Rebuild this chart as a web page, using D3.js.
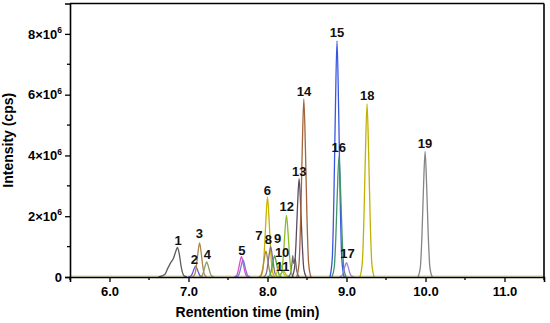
<!DOCTYPE html>
<html><head><meta charset="utf-8">
<script src="https://cdn.jsdelivr.net/npm/d3@7"></script>
<style>body{margin:0;background:#fff}svg{display:block}text{font-family:"Liberation Sans",Arial,sans-serif;font-weight:bold}</style>
</head><body><svg id="c" width="550" height="323"></svg>
<script>
// Retention-time points (min) and intensities (×10^6 cps), one array pair per peak
const peakIds = ["1","2","3","4","5","5b","6","7","8","9","10","11","x","12","13","14","15","16","17","18","19"];
const peakColors = ["#5c5c5c","#6a55d0","#a8884f","#8c9a68","#e04cc8","#7c78d8","#c8b400","#b08a3a","#7d6e8e","#4aa84a","#d6c22a","#a8b840","#6e6e6e","#8cbc2c","#5a4a66","#a2643a","#3a56e0","#3f9468","#9c86d6","#c2b200","#858585"];
const peakTimes = [
  [6.62,6.70,6.74,6.77,6.81,6.84,6.86,6.88,6.91,6.94,6.98],
  [7.00,7.03,7.05,7.07,7.09,7.11,7.13,7.15,7.18],
  [7.05,7.08,7.10,7.12,7.14,7.16,7.18,7.20,7.23],
  [7.14,7.17,7.19,7.21,7.23,7.25,7.27,7.29,7.32],
  [7.58,7.61,7.63,7.65,7.67,7.69,7.71,7.73,7.76],
  [7.60,7.63,7.65,7.67,7.69,7.71,7.73,7.75,7.78],
  [7.91,7.94,7.96,7.98,8.00,8.02,8.04,8.06,8.09],
  [7.89,7.92,7.94,7.96,7.98,8.00,8.02,8.04,8.07],
  [7.95,7.98,8.00,8.02,8.04,8.06,8.08,8.10,8.13],
  [8.00,8.03,8.05,8.07,8.09,8.11,8.13,8.15,8.18],
  [8.07,8.10,8.12,8.14,8.16,8.18,8.20,8.22,8.25],
  [8.11,8.14,8.16,8.18,8.20,8.22,8.24,8.26,8.29],
  [8.26,8.29,8.31,8.32,8.33,8.35,8.37,8.40],
  [8.15,8.18,8.20,8.22,8.24,8.26,8.28,8.30,8.33],
  [8.31,8.34,8.36,8.38,8.40,8.42,8.44,8.46,8.49],
  [8.37,8.40,8.42,8.44,8.46,8.48,8.50,8.52,8.55],
  [8.79,8.82,8.84,8.86,8.88,8.90,8.92,8.94,8.97],
  [8.815,8.845,8.865,8.885,8.905,8.925,8.945,8.965,8.995],
  [8.91,8.94,8.96,8.98,9.00,9.02,9.04,9.06,9.09],
  [9.17,9.20,9.22,9.24,9.26,9.28,9.30,9.32,9.35],
  [9.905,9.935,9.955,9.975,9.995,10.015,10.035,10.055,10.085]
];
const peakValues = [
  [0,0.08,0.30,0.45,0.62,0.85,0.97,0.80,0.30,0.05,0],
  [0,0.03,0.12,0.26,0.36,0.26,0.12,0.03,0],
  [0,0.09,0.37,0.81,1.12,0.81,0.37,0.09,0],
  [0,0.04,0.17,0.36,0.50,0.36,0.17,0.04,0],
  [0,0.05,0.22,0.48,0.67,0.48,0.22,0.05,0],
  [0,0.04,0.18,0.40,0.56,0.40,0.18,0.04,0],
  [0,0.21,0.87,1.89,2.63,1.89,0.87,0.21,0],
  [0,0.07,0.28,0.61,0.85,0.61,0.28,0.07,0],
  [0,0.08,0.33,0.72,1.00,0.72,0.33,0.08,0],
  [0,0.06,0.23,0.50,0.70,0.50,0.23,0.06,0],
  [0,0.04,0.15,0.32,0.45,0.32,0.15,0.04,0],
  [0,0.02,0.07,0.14,0.20,0.14,0.07,0.02,0],
  [0,0.10,0.45,0.70,0.45,0.60,0.20,0],
  [0,0.16,0.67,1.46,2.03,1.46,0.67,0.16,0],
  [0,0.26,1.07,2.33,3.24,2.33,1.07,0.26,0],
  [0,0.47,1.93,4.22,5.86,4.22,1.93,0.47,0],
  [0,0.62,2.56,5.59,7.77,5.59,2.56,0.62,0],
  [0,0.32,1.31,2.86,3.97,2.86,1.31,0.32,0],
  [0,0.04,0.15,0.34,0.47,0.34,0.15,0.04,0],
  [0,0.46,1.88,4.10,5.70,4.10,1.88,0.46,0],
  [0,0.33,1.36,2.97,4.13,2.97,1.36,0.33,0]
];
// Peak number labels: text, retention time, intensity (×10^6) where they sit
const labelTexts = ["1","2","3","4","5","6","7","8","9","10","11","12","13","14","15","16","17","18","19"];
const labelTimes = [6.867,7.073,7.137,7.238,7.677,7.997,7.892,8.012,8.128,8.185,8.19,8.243,8.403,8.462,8.88,8.901,9.013,9.263,9.994];
const labelValues = [1.05,0.44,1.27,0.59,0.74,2.71,1.23,1.086,1.119,0.642,0.181,2.17,3.34,5.95,7.89,4.12,0.63,5.81,4.25];
const xTicks = [6,7,8,9,10,11];
const xMinor = [5.5,6.5,7.5,8.5,9.5,10.5,11.5];
const yTicks = [0,2,4,6,8];
const yMinor = [1,3,5,7];
const xTitle = "Rentention time (min)";
const yTitle = "Intensity (cps)";

const svg = d3.select("#c");
const L = 70, R = 544, T = 3.5, B = 277;
const x = d3.scaleLinear().domain([5.5, 11.5]).range([L, R]);
const y = d3.scaleLinear().domain([0, 9]).range([B, T]);

// baseline trace
svg.append("line").attr("x1", x(5.5)).attr("x2", x(11.5)).attr("y1", y(0) - 1).attr("y2", y(0) - 1)
  .attr("stroke", "#d8d080").attr("stroke-width", 1);

const line = d3.line().x(d => x(d[0])).y(d => y(d[1])).curve(d3.curveMonotoneX);
peakIds.forEach((id, i) => {
  const pts = peakTimes[i].map((t, j) => [t, peakValues[i][j]]);
  svg.append("path").attr("d", line(pts)).attr("fill", "none")
    .attr("stroke", peakColors[i]).attr("stroke-width", 1.3).attr("stroke-linejoin", "round");
});

// axes
const gx = svg.append("g").attr("transform", `translate(0,${B})`)
  .call(d3.axisBottom(x).tickValues(xTicks).tickFormat(d3.format(".1f")).tickSize(5).tickPadding(5));
gx.append("g").selectAll("line").data(xMinor).join("line")
  .attr("x1", d => x(d)).attr("x2", d => x(d)).attr("y1", 0).attr("y2", 3).attr("stroke", "#000").attr("stroke-width", 1.3);
const gy = svg.append("g").attr("transform", `translate(${L},0)`)
  .call(d3.axisLeft(y).tickValues(yTicks).tickFormat("").tickSize(5));
gy.append("g").selectAll("line").data(yMinor).join("line")
  .attr("y1", d => y(d)).attr("y2", d => y(d)).attr("x1", 0).attr("x2", -3).attr("stroke", "#000").attr("stroke-width", 1.3);
[gx, gy].forEach(g => {
  g.select(".domain").attr("stroke", "#000").attr("stroke-width", 1.6);
  g.selectAll(".tick line").attr("stroke", "#000").attr("stroke-width", 1.3);
  g.selectAll("text").attr("font-size", 13).attr("fill", "#000").attr("font-family", null);
});
// y tick labels with superscript exponent
yTicks.forEach(v => {
  const t = svg.append("text").attr("x", L - 8).attr("y", y(v) + 4.7).attr("text-anchor", "end")
    .attr("font-size", 13).attr("fill", "#000");
  if (v === 0) { t.text("0"); }
  else {
    t.append("tspan").text(v + "×10");
    t.append("tspan").attr("dy", -5.5).attr("font-size", 8.5).text("6");
  }
});
// frame top/right
svg.append("line").attr("x1", L).attr("x2", R).attr("y1", T).attr("y2", T).attr("stroke", "#000").attr("stroke-width", 1.6);
svg.append("line").attr("x1", R).attr("x2", R).attr("y1", T).attr("y2", B).attr("stroke", "#000").attr("stroke-width", 1.6);

// peak labels
labelTexts.forEach((s, i) => {
  svg.append("text").attr("x", x(labelTimes[i])).attr("y", y(labelValues[i])).attr("text-anchor", "middle")
    .attr("font-size", 13).attr("fill", "#111").text(s);
});

svg.append("text").attr("x", 247.5).attr("y", 317).attr("text-anchor", "middle").attr("font-size", 14).text(xTitle);
svg.append("text").attr("transform", `translate(13,${(T + B) / 2}) rotate(-90)`).attr("text-anchor", "middle").attr("font-size", 14).text(yTitle);
</script></body></html>
